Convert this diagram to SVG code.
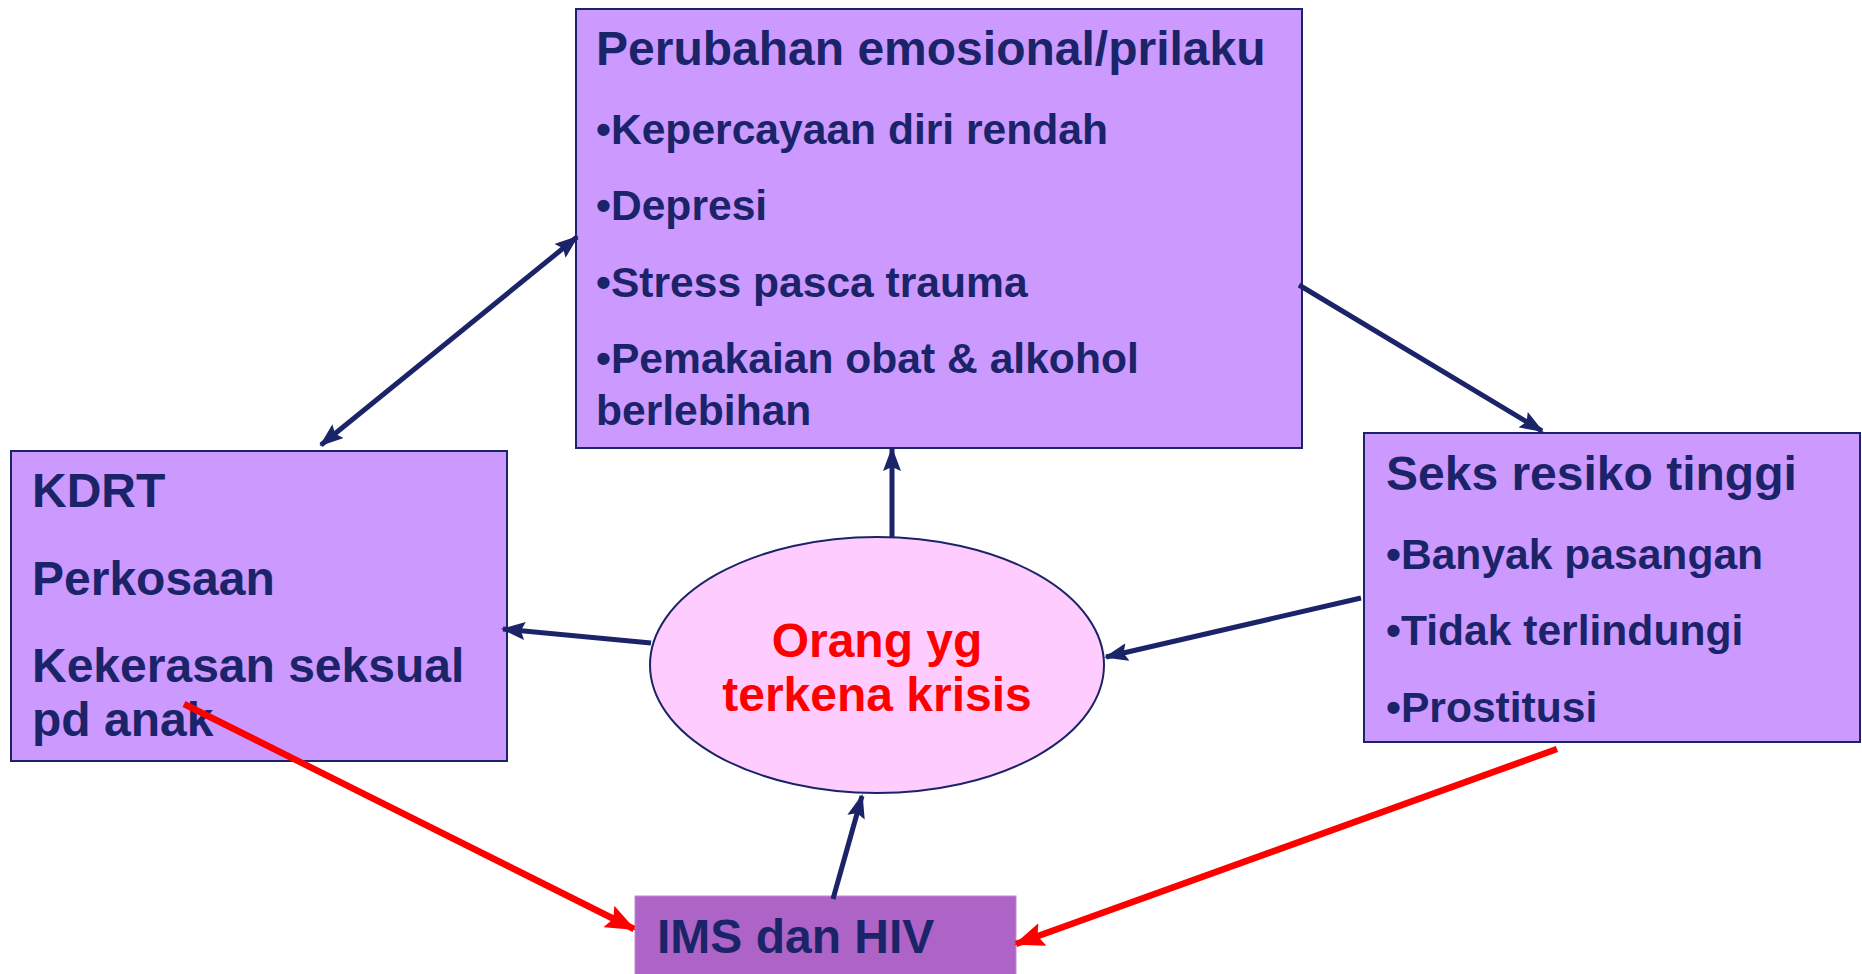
<svg xmlns="http://www.w3.org/2000/svg" width="1862" height="974" viewBox="0 0 1862 974">
<defs>
<marker id="nav" markerUnits="userSpaceOnUse" markerWidth="24" markerHeight="18" refX="22" refY="9" orient="auto-start-reverse" viewBox="0 0 24 18">
<path d="M0,0 L24,9 L0,18 L4,9 z" fill="#1b2468"/>
</marker>
<marker id="red" markerUnits="userSpaceOnUse" markerWidth="30" markerHeight="24" refX="28" refY="12" orient="auto" viewBox="0 0 30 24">
<path d="M0,0 L30,12 L0,24 L5,12 z" fill="#ff0000"/>
</marker>
<style>
.box{fill:#cc99ff;stroke:#1b2468;stroke-width:2}
.t{font-family:"Liberation Sans",Arial,sans-serif;font-weight:bold;fill:#1b2468}
.h{font-size:48px}
.b{font-size:42.6px}
.k{font-size:48px}
.n{stroke:#1b2468;stroke-width:5;fill:none}
.r{stroke:#ff0000;stroke-width:6.5;fill:none}
</style>
</defs>
<rect width="1862" height="974" fill="#ffffff"/>
<g id="node-emosional">
<rect class="box" x="576" y="9" width="726" height="439"/>
<text class="t h" x="596" y="65">Perubahan emosional/prilaku</text>
<text class="t b" x="596" y="144">•Kepercayaan diri rendah</text>
<text class="t b" x="596" y="220">•Depresi</text>
<text class="t b" x="596" y="297">•Stress pasca trauma</text>
<text class="t b" x="596" y="373">•Pemakaian obat &amp; alkohol</text>
<text class="t b" x="596" y="425">berlebihan</text>
</g>
<g id="node-kdrt">
<rect class="box" x="11" y="451" width="496" height="310"/>
<text class="t k" x="32" y="507">KDRT</text>
<text class="t k" x="32" y="595">Perkosaan</text>
<text class="t k" x="32" y="682">Kekerasan seksual</text>
<text class="t k" x="32" y="736">pd anak</text>
</g>
<g id="node-seks">
<rect class="box" x="1364" y="433" width="496" height="309"/>
<text class="t k" x="1386" y="490">Seks resiko tinggi</text>
<text class="t b" x="1386" y="569">•Banyak pasangan</text>
<text class="t b" x="1386" y="645">•Tidak terlindungi</text>
<text class="t b" x="1386" y="722">•Prostitusi</text>
</g>
<g id="node-orang">
<ellipse cx="877" cy="665" rx="227" ry="128" fill="#ffccff" stroke="#1b2468" stroke-width="2"/>
<text class="t k" x="877" y="657" text-anchor="middle" style="fill:#ff0000">Orang yg</text>
<text class="t k" x="877" y="711" text-anchor="middle" style="fill:#ff0000">terkena krisis</text>
</g>
<g id="node-ims">
<rect x="635" y="896" width="381" height="90" fill="#ae63c6" stroke="#c08ad6" stroke-width="1"/>
<text class="t k" x="657" y="953">IMS dan HIV</text>
</g>
<g id="connectors">
<line class="n" x1="577" y1="237" x2="321" y2="445" marker-start="url(#nav)" marker-end="url(#nav)"/>
<line class="n" x1="1299" y1="285" x2="1542" y2="431" marker-end="url(#nav)"/>
<line class="n" x1="892" y1="537" x2="892" y2="449" marker-end="url(#nav)"/>
<line class="n" x1="651" y1="643" x2="503" y2="629" marker-end="url(#nav)"/>
<line class="n" x1="1361" y1="598" x2="1106" y2="657" marker-end="url(#nav)"/>
<line class="n" x1="833" y1="899" x2="862" y2="796" marker-end="url(#nav)"/>
<line class="r" x1="184" y1="704" x2="634" y2="929" marker-end="url(#red)"/>
<line class="r" x1="1557" y1="749" x2="1016" y2="944" marker-end="url(#red)"/>
</g>
</svg>
